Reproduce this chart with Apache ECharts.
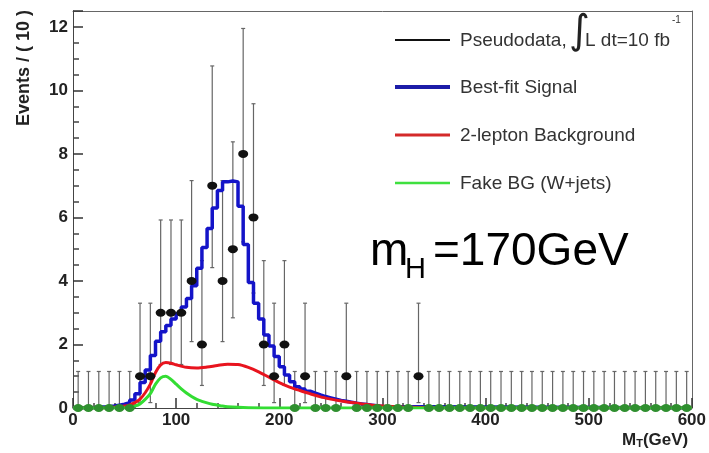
<!DOCTYPE html>
<html><head><meta charset="utf-8">
<script src="https://cdn.jsdelivr.net/npm/echarts@6/dist/echarts.min.js"></script>
<style>html,body{margin:0;padding:0;background:#fff}#c{width:709px;height:453px}</style>
</head><body><div id="c"></div>
<script>
// ---- data ----
const dataBinWidth = 10; // GeV
const dataCounts = [
  0,0,0,0,0,0,1,1,3,3,
  3,4,2,7,4,5,8,6,2,1,
  2,0,1,0,0,0,1,0,0,0,
  0,0,0,1,0,0,0,0,0,0,
  0,0,0,0,0,0,0,0,0,0,
  0,0,0,0,0,0,0,0,0,0
];
// asymmetric Poisson error-bar ends, indexed by observed count
const errLowByCount  = [0, 0.17, 0.71, 1.37, 2.09, 2.84, 3.62, 4.42, 5.23];
const errHighByCount = [1.15, 3.30, 4.64, 5.92, 7.16, 8.38, 9.58, 10.77, 11.95];

// best-fit signal histogram, 5 GeV bins starting at 0 GeV
const signalBinWidth = 5;
const signalValues = [
  0.01,0.01,0.01,0.01,0.02,0.03,0.04,0.06,0.09,0.12,
  0.17,0.25,0.45,0.8,1.2,1.65,2.1,2.4,2.6,2.8,
  2.97,3.18,3.45,3.85,4.4,5.05,5.65,6.3,6.85,7.12,
  7.15,7.12,6.35,5.15,3.95,3.3,2.8,2.3,1.95,1.62,
  1.3,1.04,0.83,0.67,0.6,0.53,0.47,0.41,0.36,0.32,
  0.28,0.24,0.21,0.18,0.15,0.13,0.11,0.09,0.07,0.05
];
// 2-lepton background curve
const bkgMass   = [0,30,40,50,55,60,65,70,75,80,85,90,95,100,110,120,130,140,150,160,170,180,190,200,210,220,230,240,250,260,270,280,290,300,320,350,400,600];
const bkgValues = [0,0,0.02,0.06,0.1,0.17,0.28,0.48,0.75,1.12,1.36,1.43,1.41,1.36,1.28,1.26,1.29,1.34,1.38,1.37,1.28,1.14,0.97,0.8,0.66,0.55,0.45,0.35,0.28,0.22,0.17,0.13,0.09,0.06,0.03,0.01,0,0];
// fake background (W+jets) curve
const fakeMass   = [0,50,55,60,65,70,75,80,85,90,95,100,105,110,115,120,125,130,135,140,145,150,160,170,200,600];
const fakeValues = [0,0,0.02,0.06,0.13,0.27,0.45,0.75,0.95,1.0,0.9,0.75,0.6,0.47,0.36,0.27,0.21,0.16,0.12,0.09,0.06,0.04,0.02,0.01,0,0];

const xTicks = [0,100,200,300,400,500,600];

// ---- build series data ----
const pointData = dataCounts.map((c, i) => [(i + 0.5) * dataBinWidth, c]);
const errData = dataCounts.map((c, i) => [(i + 0.5) * dataBinWidth, errLowByCount[c], errHighByCount[c]]);
const signalData = signalValues.map((v, i) => [i * signalBinWidth, v]);
signalData.push([signalValues.length * signalBinWidth, 0]);
signalData.push([600, 0]);
const bkgData = bkgMass.map((m, i) => [m, bkgValues[i]]);
const fakeData = fakeMass.map((m, i) => [m, fakeValues[i]]);

const FONT = '"Liberation Sans", Arial, sans-serif';
const chart = echarts.init(document.getElementById('c'), null, {renderer: 'canvas'});

const frameAxis = {
  axisLine: {show: true, onZero: false, lineStyle: {color: '#666', width: 1}},
  axisTick: {show: false}, axisLabel: {show: false}, splitLine: {show: false}, minorTick: {show: false}
};

chart.setOption({
  animation: false,
  backgroundColor: '#fff',
  grid: {left: 73, right: 12, top: 11, bottom: 45},
  xAxis: [{
    type: 'value', min: 0, max: 600, interval: 100, position: 'bottom',
    axisLine: {show: true, onZero: false, lineStyle: {color: '#444', width: 1}},
    axisTick: {show: true, inside: true, length: 10, lineStyle: {color: '#333', width: 1.5}},
    minorTick: {show: true, splitNumber: 5, length: 5, lineStyle: {color: '#444', width: 1.5}},
    splitLine: {show: false},
    axisLabel: {fontFamily: FONT, fontWeight: 'bold', fontSize: 17, color: '#222', margin: 4,
      formatter: v => xTicks.indexOf(v) >= 0 ? String(v) : ''}
  }, Object.assign({type: 'value', min: 0, max: 600, position: 'top'}, frameAxis)],
  yAxis: [{
    type: 'value', min: 0, max: 12.5, interval: 2, position: 'left',
    axisLine: {show: true, onZero: false, lineStyle: {color: '#444', width: 1}},
    axisTick: {show: true, inside: true, length: 10, lineStyle: {color: '#333', width: 1.5}},
    minorTick: {show: true, splitNumber: 4, length: 6, lineStyle: {color: '#444', width: 1.5}},
    splitLine: {show: false},
    axisLabel: {fontFamily: FONT, fontWeight: 'bold', fontSize: 17, color: '#222', margin: 5,
      formatter: v => (Math.abs(v % 2) < 1e-9 ? String(v) : '')}
  }, Object.assign({type: 'value', min: 0, max: 12.5, position: 'right'}, frameAxis)],
  series: [
    {
      name: 'errors', type: 'custom', z: 2, silent: true,
      data: errData,
      encode: {x: 0, y: [1, 2]},
      renderItem: function (params, api) {
        const x = api.value(0), lo = api.value(1), hi = api.value(2);
        const p1 = api.coord([x, lo]), p2 = api.coord([x, hi]);
        const st = {stroke: '#666', lineWidth: 1.2};
        const ch = [
          {type: 'line', shape: {x1: p1[0], y1: p1[1], x2: p2[0], y2: p2[1]}, style: st},
          {type: 'line', shape: {x1: p2[0] - 2, y1: p2[1], x2: p2[0] + 2, y2: p2[1]}, style: st}
        ];
        if (lo > 0) ch.push({type: 'line', shape: {x1: p1[0] - 2, y1: p1[1], x2: p1[0] + 2, y2: p1[1]}, style: st});
        return {type: 'group', children: ch};
      }
    },
    {
      name: 'Best-fit Signal', type: 'line', step: 'end', z: 3, data: signalData,
      showSymbol: false, lineStyle: {color: '#1414c8', width: 3.5}
    },
    {
      name: '2-lepton Background', type: 'line', smooth: 0.3, z: 4, data: bkgData,
      showSymbol: false, lineStyle: {color: '#e8141e', width: 3}
    },
    {
      name: 'Fake BG (W+jets)', type: 'line', smooth: 0.3, z: 5, data: fakeData,
      showSymbol: false, lineStyle: {color: '#33dd33', width: 3}
    },
    {
      name: 'Pseudodata', type: 'scatter', z: 6, data: pointData,
      symbol: 'circle', symbolSize: [10, 8],
      itemStyle: {opacity: 1, color: p => (p.value[1] === 0 ? '#2f8f2f' : '#111')}
    }
  ],
  graphic: [
    // y-axis title
    {type: 'text', x: 24, y: 68, rotation: Math.PI / 2,
      style: {text: 'Events / ( 10 )', fontFamily: FONT, fontWeight: 'bold', fontSize: 18, fill: '#222', align: 'center', verticalAlign: 'middle'}},
    // x-axis title
    {type: 'text', x: 622, y: 440,
      style: {text: '{a|M}{s|T}{a|(GeV)}', fontFamily: FONT, verticalAlign: 'middle', align: 'left',
        rich: {a: {fontFamily: FONT, fontWeight: 'bold', fontSize: 17, fill: '#222'},
               s: {fontFamily: FONT, fontWeight: 'bold', fontSize: 11, fill: '#222', padding: [8, 0, 0, 0]}}}},
    // legend
    {type: 'line', shape: {x1: 395, y1: 40, x2: 450, y2: 40}, style: {stroke: '#111', lineWidth: 2}},
    {type: 'text', x: 460, y: 41, style: {text: 'Pseudodata,', fontFamily: FONT, fontSize: 19, fill: '#333', verticalAlign: 'middle'}},
    {type: 'text', x: 569, y: 33, style: {text: '\u222B', fontFamily: '"DejaVu Sans", sans-serif', fontSize: 40, fill: '#222', verticalAlign: 'middle'}},
    {type: 'text', x: 585, y: 41, style: {text: 'L dt=10 fb', fontFamily: FONT, fontSize: 19, fill: '#333', verticalAlign: 'middle'}},
    {type: 'text', x: 672, y: 20, style: {text: '-1', fontFamily: FONT, fontSize: 10, fill: '#333', verticalAlign: 'middle'}},
    {type: 'line', shape: {x1: 395, y1: 87, x2: 450, y2: 87}, style: {stroke: '#1c1ca8', lineWidth: 4}},
    {type: 'text', x: 460, y: 88, style: {text: 'Best-fit Signal', fontFamily: FONT, fontSize: 19, fill: '#333', verticalAlign: 'middle'}},
    {type: 'line', shape: {x1: 395, y1: 135, x2: 450, y2: 135}, style: {stroke: '#d42a2a', lineWidth: 3}},
    {type: 'text', x: 460, y: 136, style: {text: '2-lepton Background', fontFamily: FONT, fontSize: 19, fill: '#333', verticalAlign: 'middle'}},
    {type: 'line', shape: {x1: 395, y1: 183, x2: 450, y2: 183}, style: {stroke: '#3fe03f', lineWidth: 2.5}},
    {type: 'text', x: 460, y: 184, style: {text: 'Fake BG (W+jets)', fontFamily: FONT, fontSize: 19, fill: '#333', verticalAlign: 'middle'}},
    // annotation
    {type: 'text', x: 370, y: 252, style: {text: 'm', fontFamily: FONT, fontSize: 46, fill: '#000', verticalAlign: 'middle'}},
    {type: 'text', x: 405, y: 270, style: {text: 'H', fontFamily: FONT, fontSize: 29, fill: '#000', verticalAlign: 'middle'}},
    {type: 'text', x: 433, y: 252, style: {text: '=170GeV', fontFamily: FONT, fontSize: 46, fill: '#000', verticalAlign: 'middle'}}
  ]
});
</script></body></html>
